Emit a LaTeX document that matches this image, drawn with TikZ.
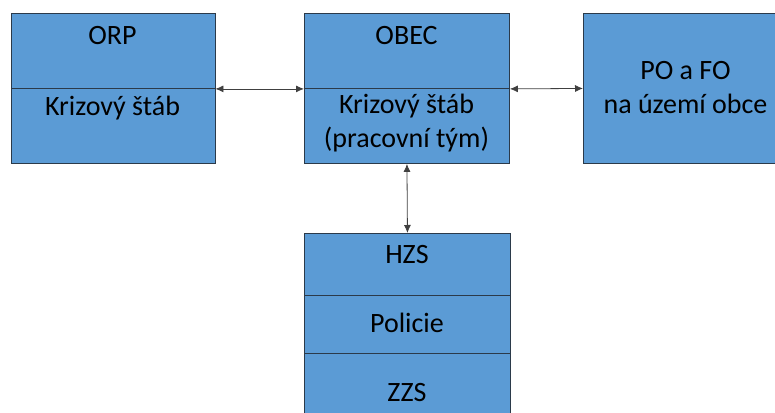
\documentclass[tikz,border=0pt]{standalone}
\usepackage{fontspec}
\setmainfont{Carlito}
\usetikzlibrary{arrows.meta, positioning}
\definecolor{cellblue}{HTML}{5B9BD5}
\definecolor{celledge}{HTML}{2B3A4A}

\begin{document}
\begin{tikzpicture}[x=1pt, y=-1pt,
    cell/.style={draw=celledge, fill=cellblue, line width=0.9pt, inner sep=0pt, anchor=north west},
    lbl/.style={font=\fontsize{28}{34}\selectfont, align=center, anchor=base, inner sep=0pt},
    link/.style={{Latex[length=8pt,width=7pt]}-{Latex[length=8pt,width=7pt]}, draw=black!75, line width=0.8pt}]
  \useasboundingbox (0,0) rectangle (775,412);

  % ORP
  \node[cell, minimum width=204pt, minimum height=75pt] (orp) at (10.5,13) {};
  \node[cell, minimum width=204pt, minimum height=75pt] (orpstab) at (10.5,88) {};
  \node[lbl] (orptext) at (112.5,45) {ORP};
  \node[lbl] (orpstabtext) at (112.5,115) {Krizový štáb};

  % OBEC
  \node[cell, minimum width=205pt, minimum height=75pt] (obec) at (304,13) {};
  \node[cell, minimum width=205pt, minimum height=75pt] (obecstab) at (304,88) {};
  \node[lbl] (obectext) at (406.5,45) {OBEC};
  % base = posledni radek
  \node[lbl] (obecstabtext) at (406.5,147) {Krizový štáb\\(pracovní tým)};

  % PO a FO
  \node[cell, minimum width=205pt, minimum height=150pt] (pofo) at (583,13) {};
  \node[lbl] (pofotext) at (685.5,113) {PO a FO\\na území obce};

  % slozky IZS
  \node[cell, minimum width=206pt, minimum height=62pt] (hzs) at (304,233) {};
  \node[cell, minimum width=206pt, minimum height=58pt] (policie) at (304,295) {};
  \node[cell, minimum width=206pt, minimum height=70pt] (zzs) at (304,353) {};
  \node[lbl] (hzstext) at (407,263) {HZS};
  \node[lbl] (policietext) at (407,332) {Policie};
  \node[lbl] (zzstext) at (407,401) {ZZS};

  % vazby
  \draw[link] (orp.south east) -- (obec.south west);
  \draw[link] (obec.south east) -- (pofo.west);
  \draw[link] (obecstab.south) -- (hzs.north);
\end{tikzpicture}
\end{document}
